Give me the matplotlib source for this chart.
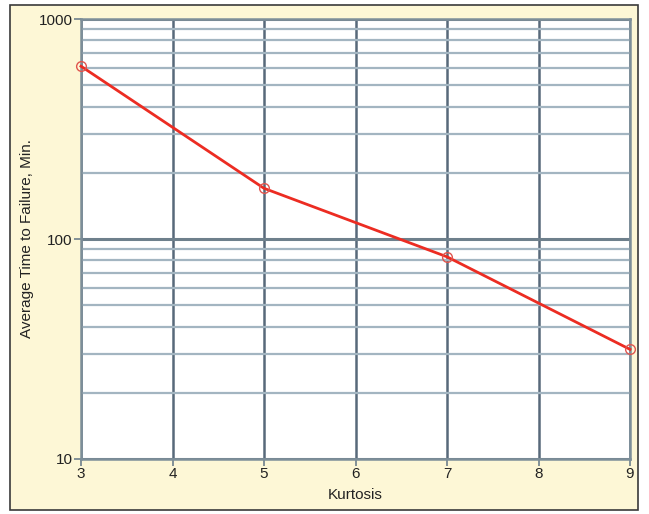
import matplotlib.pyplot as plt
from matplotlib.patches import Rectangle
from matplotlib.ticker import LogLocator, NullFormatter, FixedLocator

# data
kurtosis = [3, 5, 7, 9]
time_to_failure = [610, 170, 83, 31.5]

x_ticks = [3, 4, 5, 6, 7, 8, 9]
y_ticks = [10, 100, 1000]
y_tick_labels = ["10", "100", "1000"]

plt.rcParams['font.family'] = ['Liberation Sans Narrow', 'Liberation Sans', 'DejaVu Sans']

fig = plt.figure(figsize=(6.49, 5.14), dpi=100)

# cream panel with dark frame, kept behind the axes
fig.add_artist(Rectangle((10 / 649, 1 - 510 / 514), 628 / 649, 505 / 514,
                         transform=fig.transFigure, facecolor="#fdf7d6",
                         edgecolor="#3a3a3a", linewidth=1.2, zorder=-10))

ax = fig.add_axes([81 / 649, 1 - 459 / 514, 549 / 649, 440 / 514])
ax.set_facecolor("white")
ax.set_yscale("log")
ax.set_xlim(3, 9)
ax.set_ylim(10, 1000)

ax.xaxis.set_major_locator(FixedLocator(x_ticks))
ax.set_xticklabels([str(t) for t in x_ticks])
ax.yaxis.set_major_locator(FixedLocator(y_ticks))
ax.set_yticklabels(y_tick_labels)
ax.yaxis.set_minor_locator(LogLocator(base=10, subs=range(2, 10)))
ax.yaxis.set_minor_formatter(NullFormatter())

ax.grid(True, which="minor", axis="y", color="#a3b5c1", linewidth=1.6)
ax.grid(True, which="major", axis="y", color="#6e808c", linewidth=2.2)
ax.grid(True, which="major", axis="x", color="#58697a", linewidth=1.8)
ax.set_axisbelow(True)

for s in ax.spines.values():
    s.set_color("#7d8e99")
    s.set_linewidth(1.8)

ax.tick_params(axis="y", which="minor", length=0)
ax.tick_params(axis="y", which="major", length=5, width=1.2, color="#6e808c",
               labelsize=11, pad=1, labelcolor="#222222")
ax.tick_params(axis="x", which="major", length=5, width=1.2, color="#6e808c",
               labelsize=11, pad=1, labelcolor="#222222")

ax.plot(kurtosis, time_to_failure, color="#ec2c22", linewidth=2, zorder=3,
        clip_on=False)
ax.plot(kurtosis, time_to_failure, linestyle="none", marker="o", markersize=7,
        markerfacecolor="none", markeredgecolor="#e0554e", markeredgewidth=1,
        zorder=4, clip_on=False)

ax.set_xlabel("Kurtosis", fontsize=11, labelpad=5, color="#222222")
ax.set_ylabel("Average Time to Failure, Min.", fontsize=11, labelpad=3,
              color="#222222")

fig.savefig("out.png", dpi=100)
